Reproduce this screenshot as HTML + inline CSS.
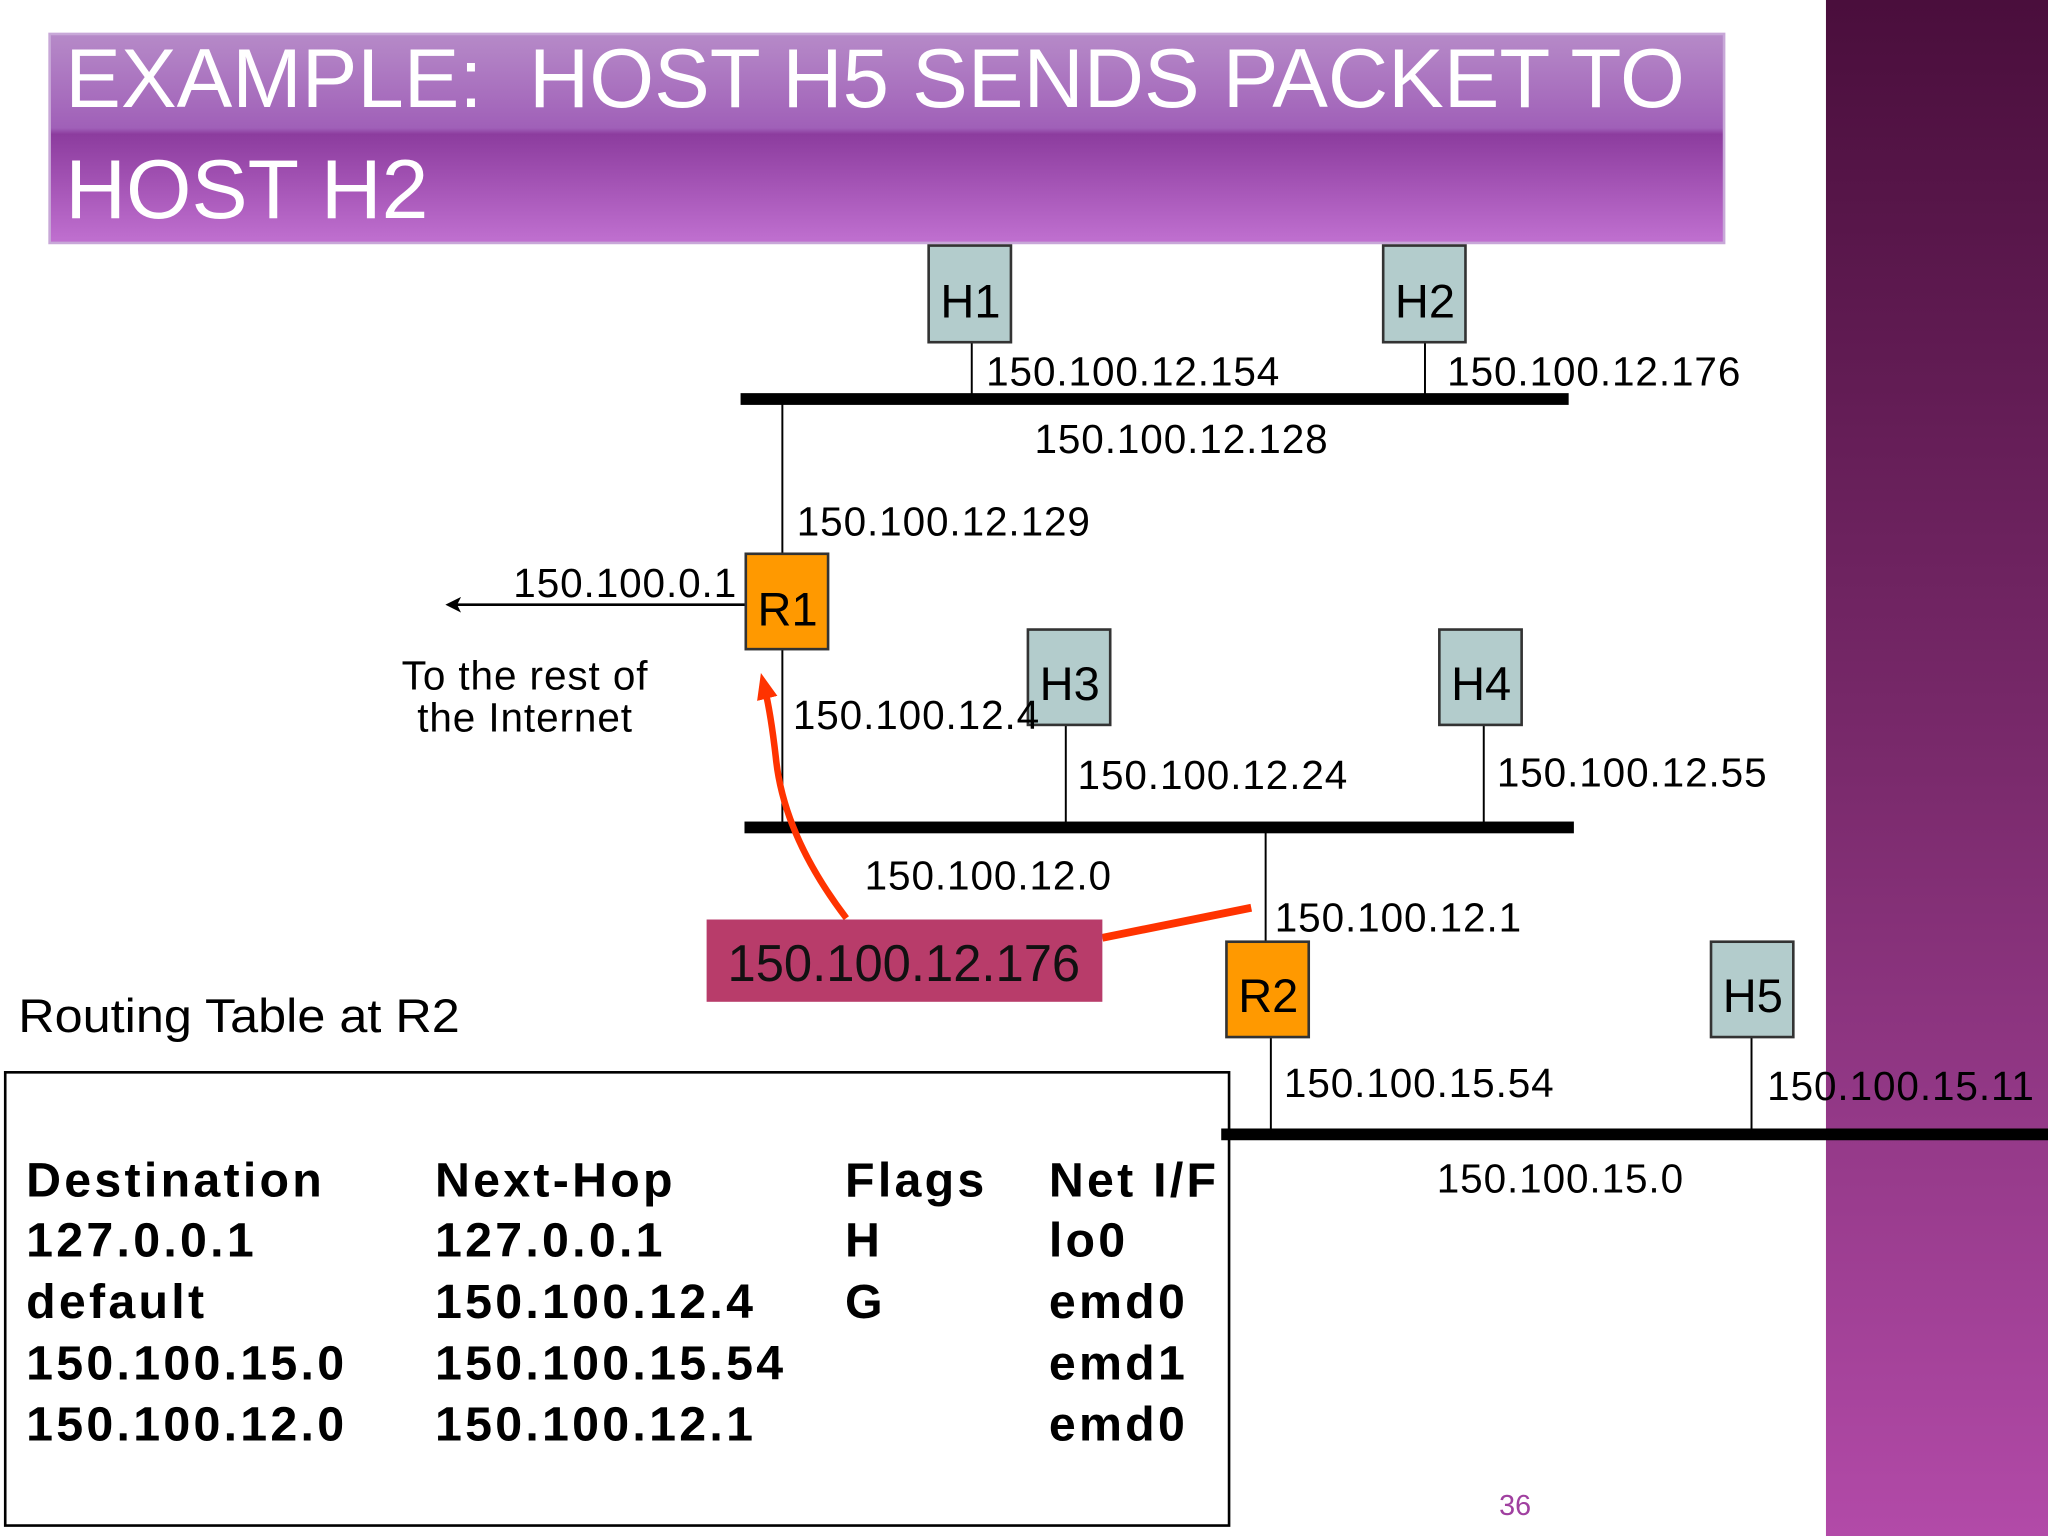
<!DOCTYPE html>
<html><head><meta charset="utf-8"><style>html,body{margin:0;padding:0;background:#fff}svg{display:block}</style></head>
<body>
<svg width="2048" height="1536" viewBox="0 0 1568 1176" xmlns="http://www.w3.org/2000/svg" font-family="Liberation Sans, sans-serif">
<defs>
<linearGradient id="side" x1="0" y1="0" x2="0" y2="1"><stop offset="0" stop-color="#4a0e3c"/><stop offset="0.5" stop-color="#7a2a6c"/><stop offset="1" stop-color="#b24aa8"/></linearGradient>
<linearGradient id="ttl" x1="0" y1="0" x2="0" y2="1"><stop offset="0" stop-color="#b68ac8"/><stop offset="0.45" stop-color="#a060b8"/><stop offset="0.48" stop-color="#8c3c9e"/><stop offset="1" stop-color="#c070d0"/></linearGradient>
<marker id="ah" markerWidth="12" markerHeight="12" refX="9" refY="6" orient="auto" markerUnits="userSpaceOnUse"><path d="M0,0 L12,6 L0,12 L3,6 Z" fill="#000"/></marker>
<marker id="rh" markerWidth="20" markerHeight="16" refX="10" refY="8" orient="auto" markerUnits="userSpaceOnUse"><path d="M0,0 L20,8 L0,16 Z" fill="#ff3300"/></marker>
</defs>
<rect x="1398" y="0" width="170" height="1176" fill="url(#side)"/>
<rect x="38" y="26" width="1282" height="160" fill="url(#ttl)" stroke="#c8a8d8" stroke-width="2"/>
<text x="50" y="82" font-size="64" fill="#fff" textLength="1240" lengthAdjust="spacingAndGlyphs">EXAMPLE:&#160; HOST H5 SENDS PACKET TO</text>
<text x="50" y="167" font-size="64" fill="#fff" textLength="278" lengthAdjust="spacingAndGlyphs">HOST H2</text>
<g stroke="#000" stroke-width="1.5">
<line x1="744" y1="262" x2="744" y2="306"/><line x1="1091" y1="262" x2="1091" y2="306"/>
<line x1="599" y1="306" x2="599" y2="425"/><line x1="599" y1="497" x2="599" y2="633"/>
<line x1="816" y1="555" x2="816" y2="633"/><line x1="1136" y1="555" x2="1136" y2="633"/>
<line x1="969" y1="633" x2="969" y2="721"/><line x1="973" y1="794" x2="973" y2="868"/><line x1="1341" y1="794" x2="1341" y2="868"/>
</g>
<rect x="567" y="301" width="634" height="9" fill="#000"/>
<rect x="570" y="629" width="635" height="9" fill="#000"/>
<rect x="935" y="864" width="633" height="9" fill="#000"/>
<line x1="571" y1="463" x2="344" y2="463" stroke="#000" stroke-width="2" marker-end="url(#ah)"/>
<g stroke="#333" stroke-width="2">
<rect x="711" y="188" width="63" height="74" fill="#b3cccc"/>
<rect x="1059" y="188" width="63" height="74" fill="#b3cccc"/>
<rect x="787" y="482" width="63" height="73" fill="#b3cccc"/>
<rect x="1102" y="482" width="63" height="73" fill="#b3cccc"/>
<rect x="1310" y="721" width="63" height="73" fill="#b3cccc"/>
<rect x="571" y="424" width="63" height="73" fill="#ff9900"/>
<rect x="939" y="721" width="63" height="73" fill="#ff9900"/>
</g>
<g font-size="36" fill="#000" text-anchor="middle">
<text x="743" y="243">H1</text><text x="1091" y="243">H2</text>
<text x="819" y="536">H3</text><text x="1134" y="536">H4</text>
<text x="1342" y="775">H5</text><text x="603" y="479">R1</text><text x="971" y="775">R2</text>
</g>
<g font-size="31" fill="#000" letter-spacing="0.7">
<text x="755" y="295">150.100.12.154</text>
<text x="1108" y="295">150.100.12.176</text>
<text x="792" y="347">150.100.12.128</text>
<text x="610" y="410">150.100.12.129</text>
<text x="393" y="457">150.100.0.1</text>
<text x="402" y="528" text-anchor="middle">To the rest of</text>
<text x="402" y="560" text-anchor="middle">the Internet</text>
<text x="607" y="558">150.100.12.4</text>
<text x="825" y="604">150.100.12.24</text>
<text x="1146" y="602">150.100.12.55</text>
<text x="662" y="681">150.100.12.0</text>
<text x="976" y="713">150.100.12.1</text>
<text x="983" y="840">150.100.15.54</text>
<text x="1353" y="842">150.100.15.11</text>
<text x="1100" y="913">150.100.15.0</text>
</g>
<path d="M648,703 Q600,640 594,580 Q590,545 585,525" fill="none" stroke="#ff3300" stroke-width="5" marker-end="url(#rh)"/>
<line x1="844" y1="718" x2="958" y2="695" stroke="#ff3300" stroke-width="6"/>
<rect x="541" y="704" width="303" height="63" fill="#b83c6a"/>
<text x="557" y="751" font-size="40" fill="#111" textLength="270" lengthAdjust="spacingAndGlyphs">150.100.12.176</text>
<text x="14" y="790" font-size="36" fill="#000" textLength="338" lengthAdjust="spacingAndGlyphs">Routing Table at R2</text>
<rect x="4" y="821" width="937" height="347" fill="none" stroke="#000" stroke-width="2"/>
<g font-size="37" font-weight="bold" fill="#000" letter-spacing="2.5">
<text x="20" y="916">Destination</text><text x="333" y="916">Next-Hop</text><text x="647" y="916">Flags</text><text x="803" y="916">Net I/F</text>
<text x="20" y="962">127.0.0.1</text><text x="333" y="962">127.0.0.1</text><text x="647" y="962">H</text><text x="803" y="962">lo0</text>
<text x="20" y="1009">default</text><text x="333" y="1009">150.100.12.4</text><text x="647" y="1009">G</text><text x="803" y="1009">emd0</text>
<text x="20" y="1056">150.100.15.0</text><text x="333" y="1056">150.100.15.54</text><text x="803" y="1056">emd1</text>
<text x="20" y="1103">150.100.12.0</text><text x="333" y="1103">150.100.12.1</text><text x="803" y="1103">emd0</text>
</g>
<text x="1160" y="1160" font-size="22" fill="#a040a0" text-anchor="middle">36</text>
</svg>
</body></html>
